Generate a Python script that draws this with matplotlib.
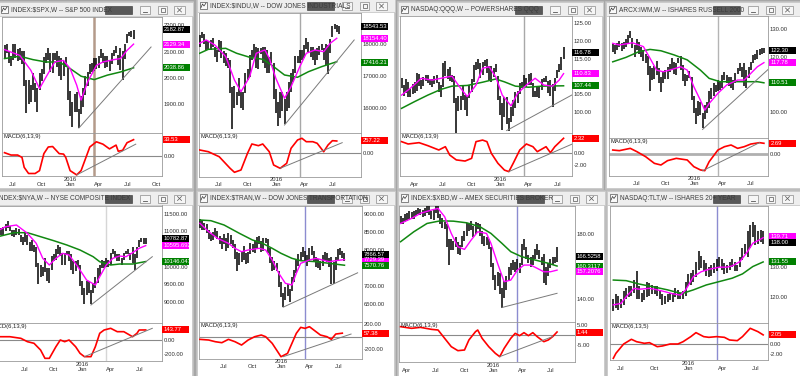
import numpy as np
import pandas as pd
import matplotlib
matplotlib.use('Agg')
import matplotlib.pyplot as plt
import matplotlib.dates as mdates
import matplotlib.transforms as mtrans
from matplotlib.patches import Rectangle

plt.rcParams['font.family'] = ['Liberation Sans', 'DejaVu Sans']

# ---------------- weekly data ----------------
# S&P 500
spx_start = '2015-06-19'
spx_high = [2127, 2130, 2102, 2082, 2129, 2129, 2110, 2113, 2102, 2104,
            1993, 1993, 1975, 2021, 1982, 1961, 2020, 2034, 2080, 2094,
            2116, 2094, 2097, 2097, 2104, 2085, 2076, 2064, 2081, 2038,
            1950, 1908, 1940, 1947, 1881, 1930, 1963, 2009, 2022, 2052,
            2056, 2075, 2075, 2083, 2111, 2096, 2084, 2084, 2065, 2094,
            2105, 2120, 2086, 2113, 2103, 2131, 2169, 2175, 2178, 2183]
spx_low = [2072, 2097, 2056, 2044, 2067, 2077, 2063, 2067, 2052, 1971,
           1867, 1903, 1909, 1953, 1908, 1872, 1953, 1990, 2016, 2059,
           2069, 2022, 2019, 2070, 2042, 2006, 1994, 2006, 2043, 1918,
           1857, 1812, 1872, 1872, 1810, 1865, 1891, 1937, 1969, 2015,
           2022, 2025, 2033, 2039, 2078, 2059, 2040, 2043, 2026, 2052,
           2084, 2094, 2051, 2032, 1991, 2074, 2135, 2159, 2155, 2147]
spx_fast_at = [0, 7, 12, 16, 19, 23, 27, 30, 33, 35, 38, 42, 45, 50, 53, 56, 59]
spx_fast = [2108, 2086, 2030, 1960, 2004, 2061, 2067, 2036, 1973, 1916, 1985, 2048, 2061, 2070, 2074, 2105, 2129]
spx_slow_at = [0, 7, 13, 19, 25, 30, 35, 41, 47, 53, 59]
spx_slow = [2074, 2083, 2070, 2061, 2061, 2036, 2007, 1994, 2011, 2023, 2039]
spx_macd_at = [0, 3, 6, 8, 9, 11, 14, 16, 18, 20, 22, 25, 27, 28, 30, 33, 35, 37, 39, 42, 45, 48, 51, 52, 54, 56, 59]
spx_macd = [6, 1, 1, -4, -25, -38, -38, -32, 4, 18, 19, 4, 3, -4, -32, -41, -32, -7, 18, 29, 24, 14, 22, 9, 11, 27, 33.5]
spx_trend = [(34, 1810), (67, 2118)]
spx_macd_trend = [(33, -41), (60, 24)]
spx_boxes = [('2182.87', 'black'), ('2129.34', '#ff00ff'), ('2038.86', '#008000')]
spx_macd_box = '33.53'

# Dow Jones Industrials
indu_start = '2015-05-15'
indu_high = [18272, 18351, 18290, 18130, 18100, 18110, 18170, 17900, 17800, 18120,
             18100, 17760, 17700, 17550, 17500, 16660, 16700, 16500, 16930, 16500,
             16500, 17100, 17220, 17650, 17800, 17980, 17900, 17880, 17880, 17900,
             17900, 17800, 17600, 17750, 17400, 16600, 16200, 16500, 16500, 16300,
             16500, 16800, 17100, 17230, 17620, 17630, 17800, 17800, 17970, 18170,
             18050, 17900, 17900, 17800, 17880, 17930, 18000, 17860, 18000, 17950,
             18150, 18540, 18620, 18590, 18560]
indu_low = [17900, 18190, 17990, 17800, 17800, 17800, 17900, 17580, 17440, 17750,
            17560, 17400, 17300, 17250, 16460, 15370, 16000, 16100, 16380, 16000,
            15940, 16470, 16890, 16980, 17500, 17600, 17240, 17210, 17690, 17400,
            17260, 17100, 17100, 17400, 16300, 15840, 15450, 15700, 15900, 15500,
            15900, 16000, 16500, 16800, 17100, 17400, 17400, 17500, 17550, 17850,
            17740, 17600, 17500, 17330, 17500, 17660, 17800, 17500, 17356, 17060,
            17700, 18200, 18450, 18360, 18310]
indu_fast_at = [0, 3, 7, 12, 16, 19, 23, 26, 30, 32, 35, 39, 42, 46, 49, 53, 57, 60, 63]
indu_fast = [18014, 18116, 17961, 17600, 16876, 16513, 16978, 17704, 17806, 17548,
             16929, 16309, 16668, 17288, 17704, 17806, 17753, 18014, 18169]
indu_slow_at = [0, 4, 12, 17, 23, 29, 33, 39, 45, 50, 56, 63]
indu_slow = [17704, 17827, 17858, 17704, 17580, 17518, 17341, 17031, 16960, 17133, 17288, 17443]
indu_macd_at = [0, 4, 9, 14, 16, 19, 22, 24, 27, 29, 32, 34, 37, 40, 42, 45, 47, 49, 52, 54, 57, 59, 61, 63]
indu_macd = [58, 21, -86, -334, -419, -370, -13, 186, 150, 186, 21, -263, -334, -227,
             94, 272, 308, 235, 235, 201, 21, 165, 257, 250]
indu_trend = [(39, 15480), (71, 18116)]
indu_macd_trend = [(37, -334), (65.5, 214)]
indu_boxes = [('18543.53', 'black'), ('18154.40', '#ff00ff'), ('17416.21', '#008000')]
indu_macd_box = '257.22'

# PowerShares QQQ
qqq_start = '2015-03-06'
qqq_high = [109.5, 107.5, 109.2, 108.5, 106.5, 107.9, 108.5, 111.0, 110.7, 109.0,
            109.8, 110.3, 110.4, 109.4, 109.4, 110.0, 110.4, 108.5, 107.6, 113.8,
            114.2, 112.1, 112.6, 110.5, 110.0, 103.9, 104.5, 104.5, 107.5, 104.9,
            104.5, 107.7, 109.2, 113.2, 114.0, 115.0, 113.7, 114.0, 114.5, 115.0,
            113.0, 113.0, 112.4, 113.5, 110.0, 104.5, 102.6, 104.3, 104.3, 98.5,
            101.4, 103.4, 105.6, 106.0, 108.3, 108.4, 110.3, 109.7, 110.6, 111.0,
            108.2, 106.0, 107.2, 107.4, 109.4, 109.7, 110.2, 108.8, 109.0, 107.9,
            109.6, 111.9, 113.5, 115.5, 118.3]
qqq_low = [106.8, 104.5, 105.5, 104.3, 104.2, 105.0, 105.5, 106.0, 107.3, 106.6,
           107.4, 108.8, 108.2, 107.7, 107.0, 107.9, 108.2, 105.8, 104.3, 107.2,
           110.2, 109.4, 108.7, 108.4, 102.7, 87.0, 100.3, 100.7, 103.4, 100.5,
           99.0, 104.0, 105.8, 108.5, 111.9, 112.0, 109.7, 110.3, 113.0, 111.0,
           108.9, 108.5, 109.8, 111.2, 103.5, 99.3, 95.0, 98.6, 96.7, 94.9,
           97.4, 98.9, 101.2, 102.5, 105.0, 106.8, 107.0, 107.0, 107.6, 107.5,
           104.4, 104.2, 104.4, 103.9, 106.3, 108.6, 108.6, 105.4, 104.5, 101.5,
           106.0, 109.6, 111.2, 111.9, 114.9]
qqq_fast_at = [0, 4, 9, 14, 18, 23, 27, 30, 34, 37, 40, 43, 46, 50, 53, 57, 61, 65, 69, 72, 74]
qqq_fast = [104.8, 106.7, 109.5, 109.0, 109.5, 110.1, 106.7, 104.4, 107.6, 112.3, 112.7,
            109.9, 104.8, 101.8, 105.3, 107.6, 109.5, 107.6, 107.3, 109.0, 110.8]
qqq_slow_at = [0, 6, 12, 18, 23, 30, 37, 43, 47, 52, 58, 64, 74]
qqq_slow = [101.1, 103.0, 104.8, 106.4, 107.3, 107.5, 108.4, 109.3, 108.5, 107.3, 107.0, 107.3, 107.4]
qqq_macd_at = [0, 3, 8, 12, 17, 20, 22, 25, 29, 32, 34, 37, 39, 41, 44, 47, 49, 51, 54, 57, 60, 62, 66, 68, 70, 74]
qqq_macd = [1.84, 1.45, 1.67, 1.17, 0.45, 1.0, -0.39, -1.2, -1.39, -0.94, 1.84, 2.1, 1.84,
            -0.1, -1.76, -2.9, -3.15, -1.76, 0.45, 1.45, 1.0, 0.17, 1.0, 0.0, 1.0, 2.4]
qqq_trend = [(48, 94.9), (78, 104.9)]
qqq_macd_trend = [(49, -3.15), (78, 1.45)]
qqq_boxes = [('116.78', 'black'), ('110.83', '#ff00ff'), ('107.44', '#008000')]
qqq_macd_box = '2.32'

# iShares Russell 2000
iwm_start = '2015-05-01'
iwm_high = [124.5, 124.3, 124.8, 125.5, 124.8, 125.3, 126.2, 127.8, 129.1, 126.8,
            124.3, 126.5, 125.2, 123.5, 122.5, 121.0, 120.3, 116.5, 116.0, 116.5,
            118.5, 115.8, 112.5, 114.7, 115.0, 116.4, 117.3, 119.5, 118.2, 117.8,
            119.6, 120.3, 117.1, 113.8, 113.5, 114.6, 112.5, 105.7, 101.5, 103.8,
            103.5, 99.5, 102.5, 103.7, 107.5, 108.5, 110.3, 109.8, 111.6, 111.3,
            113.3, 114.5, 113.5, 112.5, 112.5, 111.5, 114.0, 115.9, 117.5, 116.2,
            117.7, 115.0, 116.4, 118.2, 120.4, 121.0, 122.5, 122.8, 123.2, 123.0]
iwm_low = [121.5, 120.8, 122.3, 123.3, 122.2, 122.6, 123.5, 124.6, 126.6, 123.2,
           119.9, 122.5, 120.8, 120.0, 118.5, 117.6, 113.5, 107.5, 111.4, 112.0,
           113.5, 110.5, 107.2, 110.5, 112.0, 112.0, 114.5, 115.5, 113.6, 113.5,
           117.6, 115.2, 111.3, 109.3, 111.0, 112.3, 104.3, 99.5, 95.5, 98.5,
           98.7, 94.0, 97.5, 99.4, 101.5, 104.5, 105.7, 107.0, 107.5, 107.8,
           108.5, 111.5, 110.5, 109.2, 108.6, 107.8, 110.5, 113.6, 114.8, 112.7,
           109.3, 108.6, 112.4, 115.3, 117.8, 118.9, 119.2, 120.5, 121.0, 121.3]
iwm_fast_at = [0, 3, 9, 14, 17, 20, 23, 26, 31, 34, 37, 40, 42, 44, 48, 52, 57, 60, 63, 66, 69]
iwm_fast = [124.8, 124.2, 125.0, 123.6, 119.4, 115.1, 114.5, 115.1, 116.3, 115.1, 109.1,
            104.2, 100.6, 103.0, 106.7, 109.7, 111.5, 111.5, 113.9, 116.3, 117.8]
iwm_slow_at = [0, 6, 12, 17, 22, 28, 34, 40, 44, 49, 55, 61, 66, 69]
iwm_slow = [118.1, 119.7, 121.8, 122.6, 122.1, 120.6, 118.8, 115.1, 112.1, 110.9, 110.9, 110.9, 110.9, 110.5]
iwm_macd_at = [0, 3, 8, 11, 15, 19, 22, 25, 29, 34, 37, 40, 42, 44, 48, 51, 54, 57, 60, 63, 67, 69]
iwm_macd = [1.0, 0.84, 1.42, 0.59, -0.67, -2.35, -2.76, -1.67, -1.09, -1.5, -3.18, -4.0,
            -4.19, -1.93, 1.0, 1.84, 2.26, 1.42, 1.84, 2.5, 2.85, 2.69]
iwm_trend = [(41, 93.6), (71, 115.4)]
iwm_macd_trend = [(41, -4.2), (67, 2.85)]
iwm_boxes = [('122.30', 'black'), ('117.78', '#ff00ff'), ('110.51', '#008000')]
iwm_macd_box = '2.69'

# NYSE Composite
nya_start = '2015-04-17'
nya_high = [11150, 11150, 11100, 11130, 11200, 11280, 11150, 11050, 11050, 11080,
            11060, 10900, 10850, 10950, 10900, 10700, 10750, 10600, 10550, 10100,
            10050, 10000, 10250, 9950, 9950, 10300, 10350, 10500, 10600, 10550,
            10400, 10400, 10450, 10450, 10350, 10150, 10150, 10200, 10050, 9600,
            9400, 9600, 9600, 9350, 9550, 9700, 9950, 10050, 10200, 10150,
            10250, 10200, 10400, 10500, 10450, 10350, 10350, 10250, 10400, 10450,
            10500, 10400, 10550, 10350, 10550, 10750, 10800, 10800, 10800]
nya_low = [10950, 10980, 10900, 10900, 11020, 11100, 11000, 10880, 10830, 10900,
           10900, 10700, 10600, 10700, 10600, 10450, 10450, 10420, 10000, 9500,
           9700, 9750, 9850, 9600, 9550, 9900, 10150, 10200, 10350, 10300,
           10050, 10050, 10350, 10150, 9900, 9800, 9880, 10000, 9450, 9200,
           8950, 9200, 9250, 8950, 9250, 9400, 9550, 9750, 9950, 9950,
           10000, 10000, 10050, 10350, 10250, 10150, 10150, 10050, 10200, 10350,
           10350, 10200, 10100, 9900, 10250, 10550, 10700, 10650, 10650]
nya_fast_at = [0, 4, 9, 14, 18, 21, 24, 27, 30, 33, 37, 41, 45, 47, 50, 53, 56, 59, 62, 65, 68]
nya_fast = [11000, 11130, 11178, 10943, 10661, 10237, 10048, 10237, 10378, 10331, 10000,
            9624, 9483, 9718, 10048, 10237, 10302, 10283, 10396, 10520, 10596]
nya_slow_at = [0, 8, 14, 20, 26, 32, 38, 44, 47, 52, 56, 62, 68]
nya_slow = [10840, 10961, 10961, 10848, 10735, 10613, 10472, 10283, 10141, 10048, 10076, 10076, 10146]
nya_macd_at = [0, 6, 11, 14, 17, 20, 22, 24, 27, 29, 31, 33, 36, 38, 40, 43, 45, 47, 49, 52, 55, 58, 62, 64, 65, 68]
nya_macd = [47, 47, 24, -24, -47, -143, -262, -262, -96, 0, -24, 0, -96, -190, -238, -238,
            -96, 96, 143, 167, 119, 119, 47, 96, 143, 143.77]
nya_trend = [(43, 8918), (71, 10283)]
nya_macd_trend = [(40, -238), (71, 167)]
nya_boxes = [('10782.87', 'black'), ('10595.692', '#ff00ff'), ('10146.047', '#008000')]
nya_macd_box = '143.77'

# Dow Jones Transports
tran_start = '2015-05-01'
tran_high = [8850, 8820, 8760, 8720, 8560, 8450, 8500, 8620, 8520, 8380,
             8330, 8450, 8330, 8480, 8420, 8280, 8150, 7950, 7900, 7950,
             8100, 7900, 7950, 8200, 8150, 8250, 8350, 8380, 8250, 8330,
             8340, 8300, 8050, 7800, 7680, 7620, 7400, 7100, 6800, 6950,
             7050, 6900, 7250, 7450, 7750, 7880, 7950, 8080, 7980, 7850,
             8050, 8110, 7980, 7800, 7750, 7700, 7850, 7950, 7900, 7780,
             7800, 7650, 7800, 8020, 8050, 7980, 7900]
tran_low = [8600, 8560, 8560, 8480, 8300, 8250, 8280, 8380, 8290, 8150,
            8030, 8150, 7980, 8050, 8170, 8060, 7750, 7420, 7570, 7650,
            7720, 7600, 7620, 7880, 7950, 7920, 8050, 8150, 7950, 7980,
            8200, 7900, 7640, 7420, 7450, 7400, 6950, 6680, 6400, 6600,
            6700, 6550, 6850, 7100, 7350, 7550, 7700, 7800, 7700, 7550,
            7700, 7850, 7700, 7520, 7480, 7450, 7550, 7700, 7650, 7530,
            7050, 7050, 7450, 7700, 7850, 7760, 7680]
tran_fast_at = [0, 4, 8, 13, 16, 19, 22, 27, 30, 33, 36, 39, 42, 44, 46, 50, 53, 56, 59, 62, 66]
tran_fast = [8741, 8507, 8322, 8183, 8043, 7949, 7996, 8043, 7996, 7717, 7346, 7067, 7020,
             7346, 7625, 7717, 7764, 7717, 7670, 7698, 7729]
tran_slow_at = [0, 5, 11, 18, 24, 28, 33, 37, 42, 46, 53, 59, 66]
tran_slow = [8833, 8814, 8694, 8462, 8275, 8200, 8043, 7904, 7764, 7698, 7670, 7624, 7571]
tran_macd_at = [0, 4, 7, 10, 13, 16, 19, 22, 25, 28, 30, 33, 35, 37, 40, 42, 44, 46, 48, 50, 53, 55, 58, 60, 62, 65]
tran_macd = [-43, -54, -81, -97, -43, -81, -135, -54, 0, 27, 0, -108, -216, -324, -270,
             -108, 54, 151, 135, 162, 81, 27, 0, -43, 43, 57]
tran_trend = [(38, 6400), (72, 7360)]
tran_macd_trend = [(38, -324), (69, 43)]
tran_boxes = [('7729.39', '#ff00ff'), ('7866.57', 'black'), ('7570.76', '#008000')]
tran_macd_box = '57.38'

# AMEX Securities Broker/Dealer
xbd_start = '2015-03-27'
xbd_high = [191, 190, 192, 193, 194, 193.5, 194, 195, 196, 195.5,
            195, 196, 197, 197, 194, 195, 198, 197.5, 192, 190,
            187.5, 186, 177, 177, 176, 178.5, 175, 173, 179, 182,
            186.5, 187, 188, 185, 187.5, 187, 186, 182, 179, 178,
            177, 172, 162, 155, 157, 156, 147, 151, 154, 160,
            162, 164, 163, 165, 162, 174, 177, 172, 167, 166,
            167, 171, 174, 170, 166, 168, 160, 162, 165, 166,
            166, 172]
xbd_low = [186, 186, 187.5, 188, 189, 189, 189.5, 191, 192, 191.5,
           190.5, 191, 193, 191.5, 189, 188.5, 193, 190, 186, 184,
           183, 172, 161, 170, 170.5, 172, 168, 167, 172, 176,
           179, 182, 182.5, 178, 180, 183, 179, 174, 172.5, 173,
           171, 160, 152, 146, 148, 143, 135, 141, 146, 151,
           155, 158, 157, 158, 156, 161, 170, 165, 162, 160,
           161, 165, 167, 165, 161, 150, 149, 154, 159, 161,
           162, 163]
xbd_fast_at = [0, 5, 9, 14, 17, 20, 23, 26, 29, 32, 35, 39, 41, 44, 47, 50, 53, 56, 59, 62, 65, 68, 71]
xbd_fast = [186.5, 189.6, 192.7, 194.7, 195.7, 190.6, 180.4, 172.2, 170.6, 176.3, 181.4, 180.4,
            174.3, 162.1, 150.8, 151.8, 157.9, 161.0, 161.0, 159.0, 156.9, 156.9, 157.9]
xbd_slow_at = [0, 6, 12, 18, 24, 30, 36, 41, 46, 50, 55, 61, 67, 71]
xbd_slow = [175.3, 181.4, 186.5, 188.1, 187.9, 186.9, 184.5, 180.4, 174.3, 169.2, 166.1, 164.1, 162.1, 160.4]
xbd_macd_at = [0, 5, 9, 14, 17, 20, 23, 26, 29, 31, 34, 35, 37, 40, 43, 45, 47, 50, 52, 54,
               56, 58, 60, 62, 65, 67, 69, 71]
xbd_macd = [4.17, 3.33, 3.83, 2.83, 2.5, -1.67, -5.83, -7.83, -7.5, -2.5, 1.67, 2.5, -1.67,
            -5.83, -9.17, -10.83, -6.67, -1.67, 0.83, -0.33, 1.17, -0.33, 1.17, -0.83, -3.33,
            -2.5, -0.83, 1.5]
xbd_trend = [(46, 135), (71, 143.7)]
xbd_macd_trend = [(45, -10.8), (69, -0.8)]
xbd_boxes = [('166.5258', 'black'), ('160.3117', '#008000'), ('157.2076', '#ff00ff')]
xbd_macd_box = '1.44'

# iShares 20+ Year Treasury
tlt_start = '2015-06-26'
tlt_high = [119.5, 121, 120.5, 119.5, 122, 123, 123.5, 123.5, 125.5, 128.5,
            123.5, 121.5, 122.5, 125, 124.5, 124, 123.5, 123.5, 122.5, 121,
            120.5, 121, 121.5, 121.5, 123, 122.5, 121.5, 122, 125, 127.5,
            128, 129, 131.5, 135, 133.5, 132, 131, 130, 130.5, 131,
            132.5, 133, 132.5, 131, 130.5, 131.5, 132.5, 131.5, 130.5, 133,
            136, 137.5, 141.5, 143.5, 144.5, 143.5, 141.5, 142, 141.5]
tlt_low = [115.5, 116.5, 115.8, 116.5, 117.5, 119.5, 120, 120.5, 121.5, 119.5,
           119.5, 118.5, 119, 120, 120.5, 121, 121, 120.5, 119.5, 117.5,
           117.8, 118.5, 119, 118.5, 120, 119.5, 119.5, 119.5, 120.5, 123.5,
           124, 125, 126.5, 129, 129.5, 128.5, 127, 126.5, 127, 128,
           128.5, 130, 129, 127.5, 128, 129, 130, 128.5, 128.5, 130,
           132, 134, 133, 136, 139.5, 137, 137.5, 138, 137.5]
tlt_fast_at = [0, 3, 5, 8, 10, 14, 17, 20, 23, 26, 28, 31, 34, 37, 41, 44, 46, 49, 52, 54, 57, 58]
tlt_fast = [117.5, 118.0, 120.2, 122.9, 122.6, 122.9, 122.4, 121.8, 121.1, 120.7, 122.4, 126.7,
            128.3, 129.1, 129.8, 129.8, 130.2, 131.6, 134.9, 137.6, 138.9, 139.4]
tlt_slow_at = [0, 5, 10, 16, 21, 25, 27, 31, 36, 41, 46, 50, 54, 58]
tlt_slow = [125.6, 125.4, 124.3, 123.3, 122.4, 121.5, 121.3, 122.4, 124.0, 125.1, 126.2, 127.6, 130.0, 131.5]
tlt_macd_at = [0, 1, 4, 7, 9, 12, 14, 17, 19, 22, 25, 27, 30, 32, 35, 37, 40, 43, 45, 48, 50, 53, 56, 58]
tlt_macd = [-3.04, -1.96, 0.07, 1.09, 0.57, 0.22, 0.36, -0.51, -0.36, 0.07, 0.07, 0.57, 1.67,
            2.54, 1.67, 1.52, 1.67, 1.52, 0.94, 0.80, 1.67, 3.48, 2.75, 2.05]
tlt_boxes = [('139.71', '#ff00ff'), ('138.00', 'black'), ('131.55', '#008000')]
tlt_macd_box = '2.05'

cursor_date = '2016-04-01'

# ---------------- layout ----------------
W, H = 800, 376
fig = plt.figure(figsize=(W / 100, H / 100), dpi=100)
fig.patch.set_facecolor('#a6a6a6')

bg = fig.add_axes([0, 0, 1, 1])
bg.set_xlim(0, W)
bg.set_ylim(H, 0)
bg.axis('off')


def px_rect(x0, y0, x1, y1):
    return [x0 / W, 1 - y1 / H, (x1 - x0) / W, (y1 - y0) / H]


panels = [
    dict(title='INDEX:$SPX,W -- S&P 500 INDEX', start=spx_start, high=spx_high, low=spx_low,
         fast=(spx_fast_at, spx_fast), slow=(spx_slow_at, spx_slow), macd=(spx_macd_at, spx_macd),
         trend=spx_trend, mtrend=spx_macd_trend, boxes=spx_boxes, mbox=spx_macd_box, mname='MACD(6,13,9)',
         win=(-2, 2, 193, 188.5), price=(2, 16.5, 162, 133), lower=(2, 133, 162, 176),
         ylim=(1791, 2234), yticks=[1900, 2000, 2100, 2200], mlim=(-43.3, 47.6), mticks=[0],
         xlim=('2015-06-11', '2016-11-04'), cur='#b49a8a', cur_lw=1.8),
    dict(title='INDEX:$INDU,W -- DOW JONES INDUSTRIALS', start=indu_start, high=indu_high, low=indu_low,
         fast=(indu_fast_at, indu_fast), slow=(indu_slow_at, indu_slow), macd=(indu_macd_at, indu_macd),
         trend=indu_trend, mtrend=indu_macd_trend, boxes=indu_boxes, mbox=indu_macd_box, mname='MACD(6,13,9)',
         win=(197, -2, 395, 188.5), price=(199, 12.5, 360.7, 133), lower=(199, 133, 360.7, 176.5),
         ylim=(15233, 18968), yticks=[16000, 17000, 18000], mlim=(-509, 421), mticks=[0],
         xlim=('2015-05-13', '2016-10-14'), cur='#a8a8a8', cur_lw=1.0),
    dict(title='NASDAQ:QQQ,W -- POWERSHARES QQQ', start=qqq_start, high=qqq_high, low=qqq_low,
         fast=(qqq_fast_at, qqq_fast), slow=(qqq_slow_at, qqq_slow), macd=(qqq_macd_at, qqq_macd),
         trend=qqq_trend, mtrend=qqq_macd_trend, boxes=qqq_boxes, mbox=qqq_macd_box, mname='MACD(6,13,9)',
         win=(398, 2, 603, 188.5), price=(400, 16, 571.7, 133.3), lower=(400, 133.3, 571.7, 176),
         ylim=(94.13, 126.9), yticks=[100, 105, 115, 120, 125], mlim=(-3.88, 3.23), mticks=[-2, 0],
         xlim=('2015-03-01', '2016-08-31'), cur='#a8a8a8', cur_lw=1.0),
    dict(title='ARCX:IWM,W -- ISHARES RUSSELL 2000', start=iwm_start, high=iwm_high, low=iwm_low,
         fast=(iwm_fast_at, iwm_fast), slow=(iwm_slow_at, iwm_slow), macd=(iwm_macd_at, iwm_macd),
         trend=iwm_trend, mtrend=iwm_macd_trend, boxes=iwm_boxes, mbox=iwm_macd_box, mname='MACD(6,13,9)',
         win=(606, 2, 801, 188.5), price=(609, 16, 768.3, 138), lower=(609, 138, 768.3, 175.5),
         ylim=(90.5, 134.7), yticks=[100, 120, 130], mlim=(-5.4, 4.02), mticks=[0],
         xlim=('2015-04-19', '2016-09-09'), cur='#b4b4b4', cur_lw=1.0, zero_lw=2.0),
    dict(title='INDEX:$NYA,W -- NYSE COMPOSITE INDEX', start=nya_start, high=nya_high, low=nya_low,
         fast=(nya_fast_at, nya_fast), slow=(nya_slow_at, nya_slow), macd=(nya_macd_at, nya_macd),
         trend=nya_trend, mtrend=nya_macd_trend, boxes=nya_boxes, mbox=nya_macd_box, mname='MACD(6,13,9)',
         win=(-16, 190.5, 193, 377), price=(-12, 205.5, 162, 323), lower=(-12, 323, 162, 361),
         ylim=(8410, 11729), yticks=[9000, 9500, 10000, 11000, 11500], mlim=(-300, 243),
         mticks=[-200, 0], xlim=('2015-03-20', '2016-09-26'), cur='#d6d6d6', cur_lw=1.0),
    dict(title='INDEX:$TRAN,W -- DOW JONES TRANSPORTATION', start=tran_start, high=tran_high, low=tran_low,
         fast=(tran_fast_at, tran_fast), slow=(tran_slow_at, tran_slow), macd=(tran_macd_at, tran_macd),
         trend=tran_trend, mtrend=tran_macd_trend, boxes=tran_boxes, mbox=tran_macd_box, mname='MACD(6,13,9)',
         win=(197, 190.5, 395, 377), price=(199, 205.5, 361.7, 322), lower=(199, 322, 361.7, 358.5),
         ylim=(5987, 9238), yticks=[6500, 7000, 8000, 8500, 9000], mlim=(-353, 238),
         mticks=[-200, 200], xlim=('2015-04-28', '2016-09-29'), cur='#8c8cd0', cur_lw=1.0),
    dict(title='INDEX:$XBD,W -- AMEX SECURITIES BROKER', start=xbd_start, high=xbd_high, low=xbd_low,
         fast=(xbd_fast_at, xbd_fast), slow=(xbd_slow_at, xbd_slow), macd=(xbd_macd_at, xbd_macd),
         trend=xbd_trend, mtrend=xbd_macd_trend, boxes=xbd_boxes, mbox=xbd_macd_box, mname='MACD(6,13,9)',
         win=(398, 190.5, 605, 377), price=(399, 205.5, 575, 321.7), lower=(399, 321.7, 575, 362),
         ylim=(126.3, 197.5), yticks=[140, 180], mlim=(-13.5, 6.65), mticks=[-5, 5],
         xlim=('2015-03-22', '2016-10-01'), cur='#8c8cd0', cur_lw=1.0),
    dict(title='NASDAQ:TLT,W -- ISHARES 20+ YEAR', start=tlt_start, high=tlt_high, low=tlt_low,
         fast=(tlt_fast_at, tlt_fast), slow=(tlt_slow_at, tlt_slow), macd=(tlt_macd_at, tlt_macd),
         trend=None, mtrend=None, boxes=tlt_boxes, mbox=tlt_macd_box, mname='MACD(6,13,5)',
         win=(607, 190.5, 801, 377), price=(610, 205.5, 768.3, 323.3), lower=(610, 323.3, 768.3, 360),
         ylim=(111.5, 149.9), yticks=[120, 130], mlim=(-3.41, 4.57), mticks=[-2, 0],
         xlim=('2015-06-17', '2016-08-19'), cur='#8c8cd0', cur_lw=1.0),
]

GRAY = '#9a9a9a'
LBL = 4.2


def draw_window(p):
    x0, y0, x1, y1 = p['win']
    bg.add_patch(Rectangle((x0, y0), x1 - x0, y1 - y0, fc='white', ec='#c2c2c2', lw=1.2))
    bg.add_patch(Rectangle((x0, y0), x1 - x0, 14, fc='#eeeeee', ec='#c8c8c8', lw=0.6))
    bg.add_patch(Rectangle((x0 + 3, y0 + 3.5), 7, 7.5, fc='#fafafa', ec='#555555', lw=0.5))
    bg.plot([x0 + 4, x0 + 5.5, x0 + 7, x0 + 9], [y0 + 9.5, y0 + 6, y0 + 8, y0 + 5], color='#333333', lw=0.5)
    t = bg.text(x0 + 13, y0 + 7.5, p['title'], fontsize=4.7, color='#3c3c3c', ha='left', va='center')
    t.set_clip_path(Rectangle((x0, y0), x1 - 88 - x0, 14, transform=bg.transData))
    bg.add_patch(Rectangle((x1 - 88, y0 + 4), 27, 8, fc='#585858', ec='#303030', lw=0.4))
    for a, b in [(x1 - 53, x1 - 43), (x1 - 35, x1 - 26), (x1 - 19, x1 - 8)]:
        bg.add_patch(Rectangle((a, y0 + 4), b - a, 8, fc='#f6f6f6', ec='#8c8c8c', lw=0.5))
    bg.plot([x1 - 50, x1 - 46], [y0 + 10, y0 + 10], color='#555555', lw=0.6)
    bg.add_patch(Rectangle((x1 - 32.5, y0 + 6), 4, 4, fc='none', ec='#555555', lw=0.5))
    bg.plot([x1 - 15.5, x1 - 11.5], [y0 + 6, y0 + 10], color='#555555', lw=0.5)
    bg.plot([x1 - 15.5, x1 - 11.5], [y0 + 10, y0 + 6], color='#555555', lw=0.5)


def value_box(ax, rect, ylim, text, color):
    aw = rect[2] - rect[0]
    ah = rect[3] - rect[1]
    v = float(text)
    hd = 7.0 * (ylim[1] - ylim[0]) / ah
    tr = mtrans.blended_transform_factory(ax.transAxes, ax.transData)
    ax.add_patch(Rectangle((1.0 + 0.5 / aw, v - hd / 2), 27.0 / aw, hd, transform=tr,
                           fc=color, ec='none', clip_on=False, zorder=6))
    ax.text(1.0 + 2.0 / aw, v, text, transform=tr, color='white', fontsize=LBL,
            va='center', ha='left', clip_on=False, zorder=7)


def style_axes(ax):
    for s in ax.spines.values():
        s.set_color(GRAY)
        s.set_linewidth(0.6)
    ax.yaxis.tick_right()
    ax.tick_params(axis='y', length=0, pad=1.2, labelsize=LBL, colors='#303030')


def draw_panel(p):
    draw_window(p)
    x0d = mdates.date2num(pd.Timestamp(p['start']))
    n = len(p['high'])
    xs = x0d + 7 * np.arange(n)
    xl = (mdates.date2num(pd.Timestamp(p['xlim'][0])), mdates.date2num(pd.Timestamp(p['xlim'][1])))
    cx = mdates.date2num(pd.Timestamp(cursor_date))

    # price pane
    ax = fig.add_axes(px_rect(*p['price']))
    style_axes(ax)
    ax.set_xticks([])
    ax.set_yticks(p['yticks'])
    ax.set_yticklabels(['%.2f' % t for t in p['yticks']])
    ax.axvline(cx, color=p['cur'], lw=p['cur_lw'], zorder=1)
    ax.vlines(xs, p['low'], p['high'], color='black', lw=1.1, zorder=3)
    fa, fv = p['fast']
    sa, sv = p['slow']
    ax.plot(x0d + 7 * np.array(sa), sv, color='#118811', lw=1.1, zorder=4)
    ax.plot(x0d + 7 * np.array(fa), fv, color='#ff00ff', lw=1.0, zorder=4)
    if p['trend']:
        (i0, v0), (i1, v1) = p['trend']
        ax.plot([x0d + 7 * i0, x0d + 7 * i1], [v0, v1], color='#7a7a7a', lw=0.7, zorder=4)
    for txt, col in p['boxes']:
        value_box(ax, p['price'], p['ylim'], txt, col)
    ax.set_xlim(*xl)
    ax.set_ylim(*p['ylim'])

    # MACD pane
    mx = fig.add_axes(px_rect(*p['lower']))
    style_axes(mx)
    mx.set_yticks(p['mticks'])
    mx.set_yticklabels(['%.2f' % t for t in p['mticks']])
    mx.axhline(0, color='#8a8a8a' if p.get('zero_lw') is None else '#b0b0b0',
               lw=p.get('zero_lw', 0.8), zorder=2)
    mx.axvline(cx, color=p['cur'], lw=p['cur_lw'], zorder=1)
    ma, mv = p['macd']
    mx.plot(x0d + 7 * np.array(ma), mv, color='#ff0000', lw=1.2, zorder=4)
    if p['mtrend']:
        (i0, v0), (i1, v1) = p['mtrend']
        mx.plot([x0d + 7 * i0, x0d + 7 * i1], [v0, v1], color='#7a7a7a', lw=0.7, zorder=4)
    aw = p['lower'][2] - p['lower'][0]
    ah = p['lower'][3] - p['lower'][1]
    mx.text(1.5 / aw, 1 - 1.0 / ah, p['mname'], transform=mx.transAxes, fontsize=LBL,
            color='#202020', va='top', ha='left', zorder=5)
    value_box(mx, p['lower'], p['mlim'], p['mbox'], '#ff0000')
    mx.xaxis.set_major_locator(mdates.MonthLocator(bymonth=(1, 4, 7, 10), bymonthday=16))
    mx.xaxis.set_major_formatter(mdates.DateFormatter('%b'))
    mx.tick_params(axis='x', length=0, pad=4.3, labelsize=LBL, colors='#303030')
    mx.annotate('2016', xy=(mdates.date2num(pd.Timestamp('2016-01-16')), 0),
                xycoords=('data', 'axes fraction'), xytext=(0, -2.4), textcoords='offset points',
                ha='center', va='center', fontsize=LBL, color='#303030', annotation_clip=False)
    mx.set_xlim(*xl)
    mx.set_ylim(*p['mlim'])


for p in panels:
    draw_panel(p)

fig.savefig('out.png', dpi=100, facecolor=fig.get_facecolor())
